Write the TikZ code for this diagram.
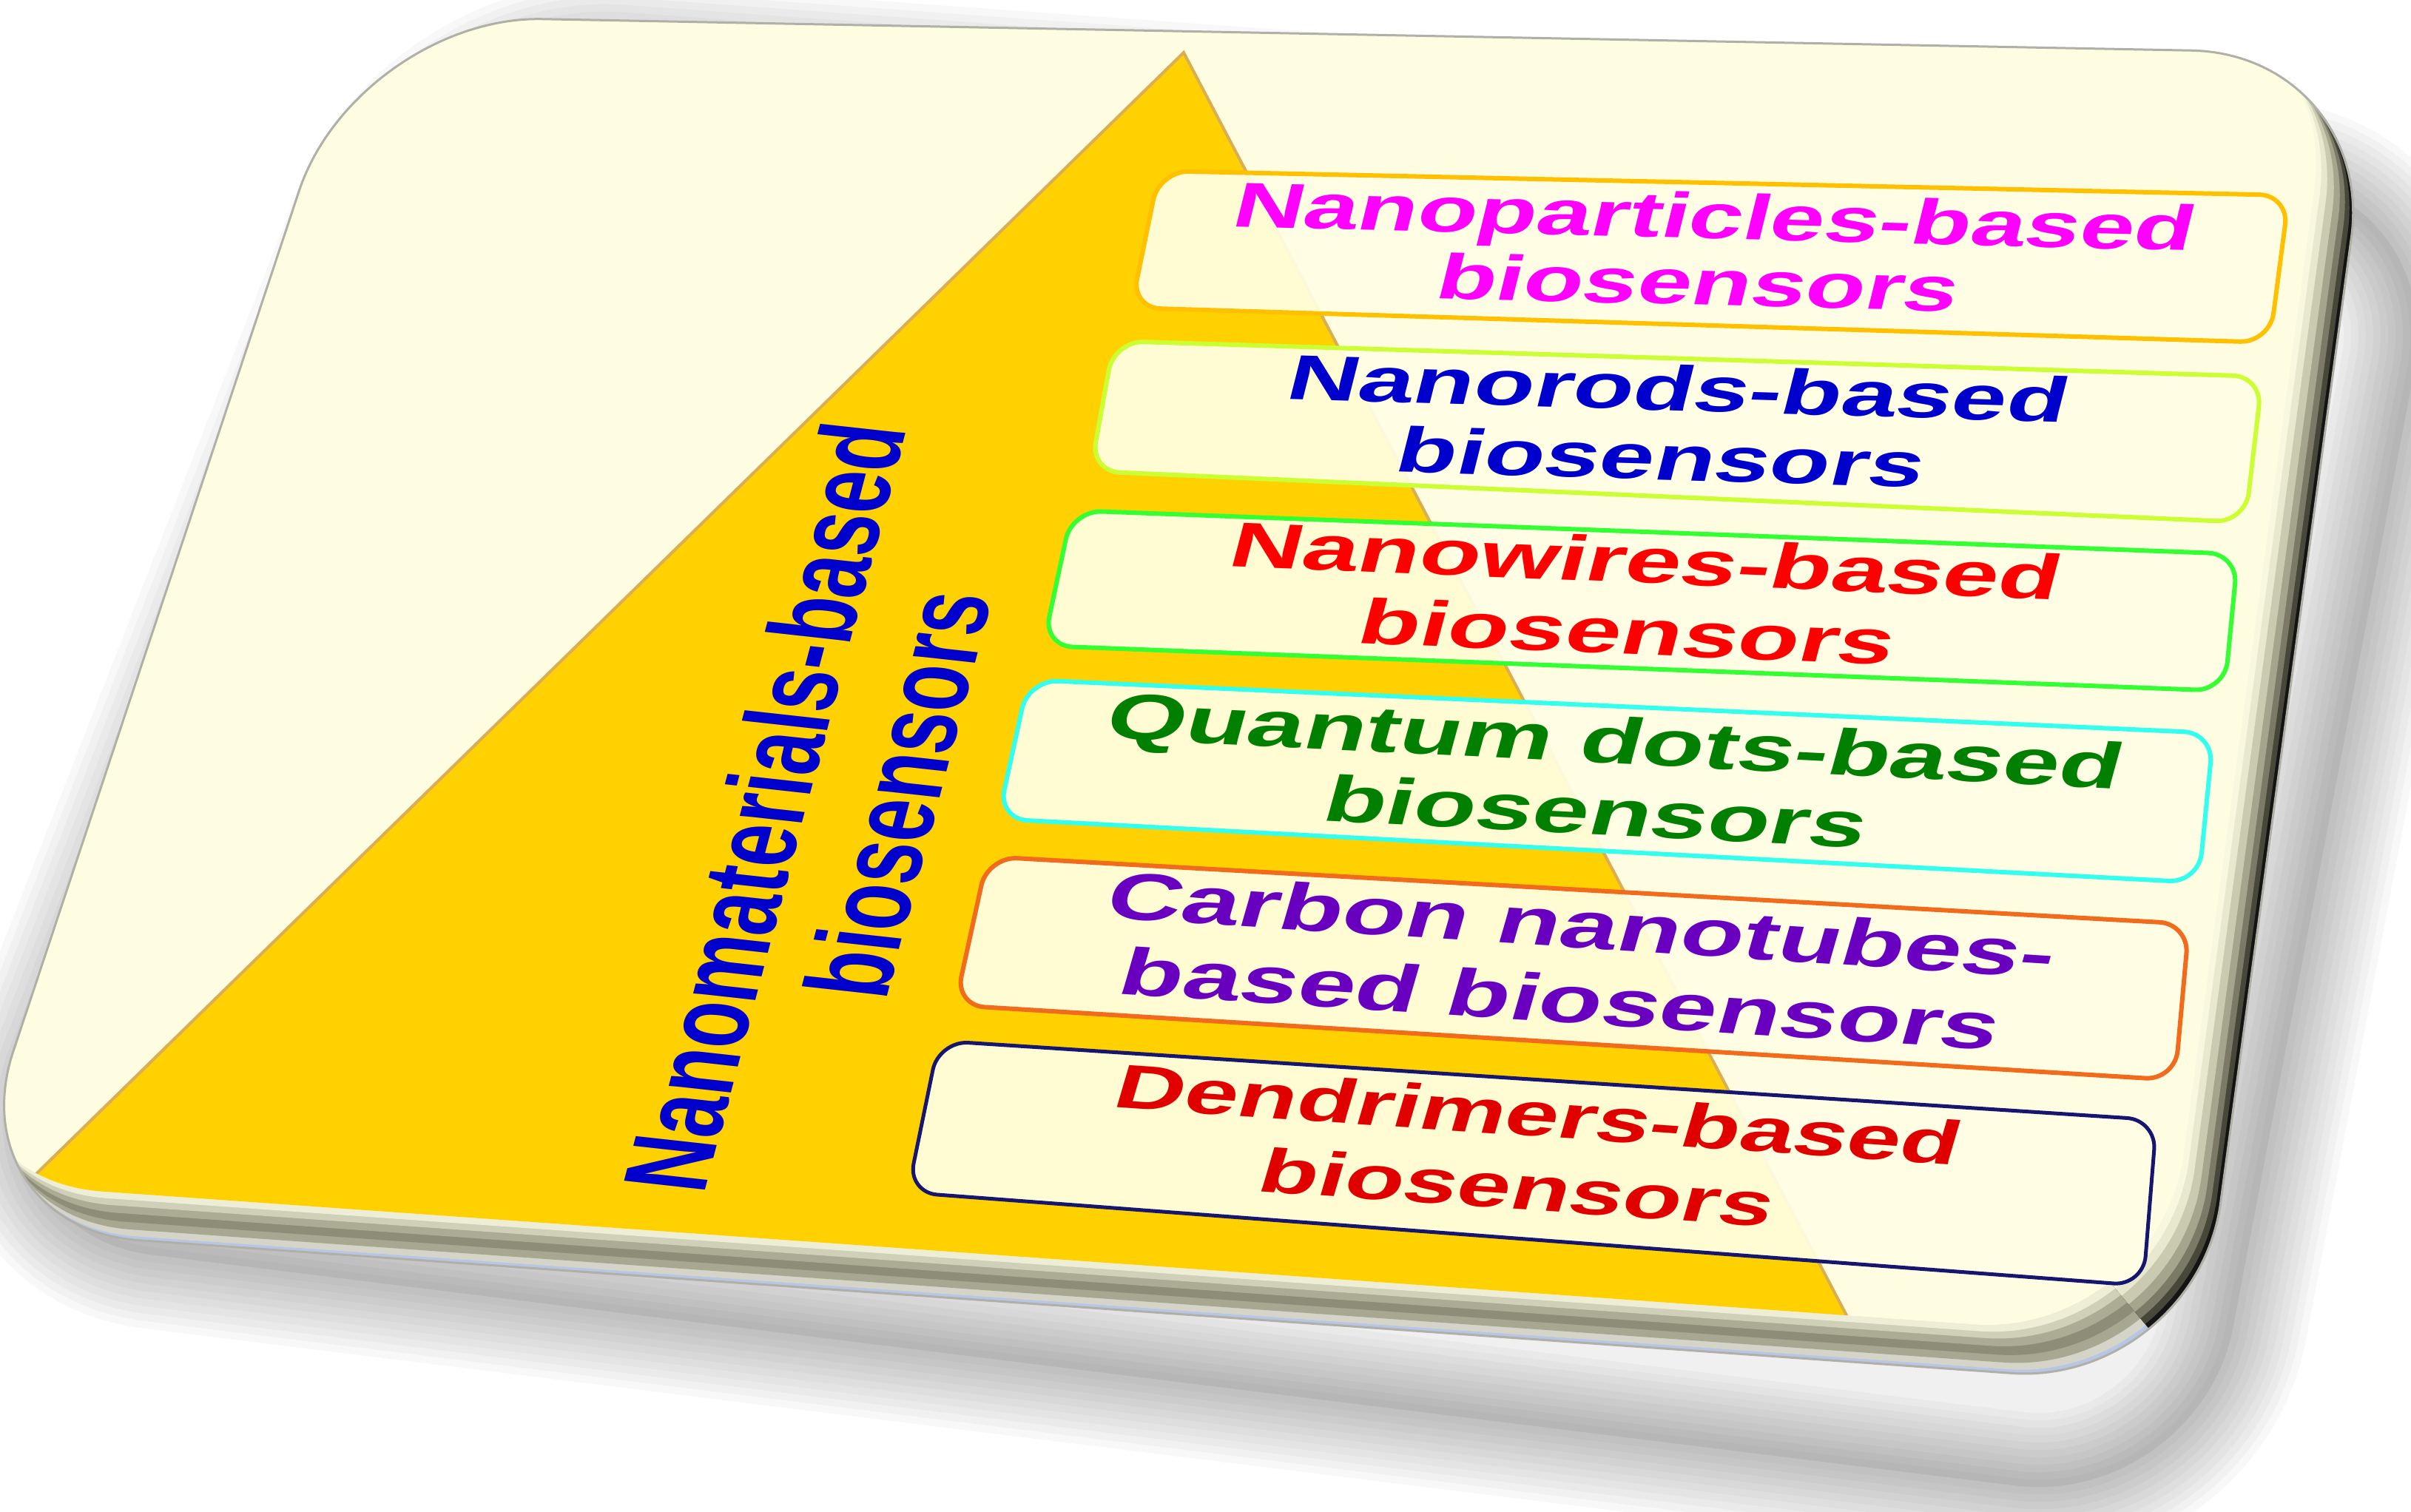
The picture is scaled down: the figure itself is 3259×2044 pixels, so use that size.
\documentclass[tikz,border=0pt]{standalone}
\usepackage{fontspec}
\setmainfont{Liberation Sans}
\newcommand{\fsz}[2]{\fontsize{#1}{#2}\selectfont\bfseries}
\newcommand{\cardshape}{(483,21) -- (3212,73) -- (2968,1874) -- (-61,1659) -- cycle}
\definecolor{face}{HTML}{FFFDE1}
\definecolor{boxfill}{HTML}{FFFFE6}
\definecolor{gold}{HTML}{FFD100}
\definecolor{triedge}{HTML}{D9AE55}
\definecolor{bA}{HTML}{B8C6E6}
\definecolor{bB}{HTML}{D4D4C8}
\definecolor{bC}{HTML}{A8A892}
\definecolor{bD}{HTML}{8E8E78}
\definecolor{bE}{HTML}{ACAC94}
\definecolor{bF}{HTML}{D0D0B8}
\definecolor{bG}{HTML}{EEEED6}
\definecolor{rA}{HTML}{141414}
\definecolor{rB}{HTML}{47473A}
\definecolor{rC}{HTML}{7A7A66}
\definecolor{rD}{HTML}{A5A58E}
\definecolor{rE}{HTML}{CACAB0}
\definecolor{rF}{HTML}{E8E8CE}
\definecolor{rG}{HTML}{F8F8E0}
\definecolor{outl}{HTML}{B0B0A8}
\definecolor{b1c}{HTML}{FFC000}
\definecolor{b2c}{HTML}{CCFF33}
\definecolor{b3c}{HTML}{33FF33}
\definecolor{b4c}{HTML}{33FFEE}
\definecolor{b5c}{HTML}{F26A1B}
\definecolor{b6c}{HTML}{16166E}
\definecolor{t1c}{HTML}{FF00FF}
\definecolor{t2c}{HTML}{0000CC}
\definecolor{t3c}{HTML}{FF0000}
\definecolor{t4c}{HTML}{007F00}
\definecolor{t5c}{HTML}{6A00BF}
\definecolor{t6c}{HTML}{E00000}
\definecolor{labc}{HTML}{0000CC}
\begin{document}
\begin{tikzpicture}[x=1pt,y=-1pt,
  cardr/.style={rounded corners=250pt},
  boxr/.style={rounded corners=40pt, line width=6pt, fill=boxfill, fill opacity=0.92},
  btxt/.style={anchor=base, align=center, inner sep=0pt}]
\useasboundingbox (0,0) rectangle (3259,2044);
\clip (0,0) rectangle (3259,2044);
% shadow
\begin{scope}[shift={(20,10)}, rotate around={-3:(0,1650)}]
  \foreach \w in {200,180,...,20}{\draw[cardr, line width=\w pt, black, opacity=0.028, line join=round] \cardshape;}
  \fill[cardr, black, opacity=0.06] \cardshape;
\end{scope}
% card with rim
\begin{scope}
  \clip[cardr] \cardshape;
  \foreach \t/\c in {0/bA,0.08/bB,0.22/bC,0.38/bD,0.56/bE,0.72/bF,0.86/bG}{\fill[cardr, \c, shift={(-50*\t,-66*\t)}] \cardshape;}
  \begin{scope}
    \clip (2560,0) -- (2560,1380) -- (3110,2044) -- (3259,2044) -- (3259,0) -- cycle;
    \foreach \t/\c in {0/rA,0.10/rB,0.22/rC,0.36/rD,0.52/rE,0.70/rF,0.86/rG}{\fill[cardr, \c, shift={(-50*\t,-66*\t)}] \cardshape;}
  \end{scope}
  \fill[cardr, face, shift={(-50,-66)}] \cardshape;
  \begin{scope}
    \clip[cardr, shift={(-50,-66)}] \cardshape;
    \fill[gold, draw=triedge, line width=4pt] (1600,71) -- (2497,1780) -- (15,1620) -- cycle;
  \end{scope}
\end{scope}
\draw[cardr, line width=3pt, outl] \cardshape;
% boxes
\draw[boxr, draw=b1c] (1567,231) -- (3094,264) -- (3068,463) -- (1529,416) -- cycle;
\draw[boxr, draw=b2c] (1506,461) -- (3058,509) -- (3035,706) -- (1474,637) -- cycle;
\draw[boxr, draw=b3c] (1449,690) -- (3025,749) -- (3007,934) -- (1410,873) -- cycle;
\draw[boxr, draw=b4c] (1390,919) -- (2992,991) -- (2972,1193) -- (1349,1107) -- cycle;
\draw[boxr, draw=b5c] (1335,1158) -- (2959,1249) -- (2940,1460) -- (1291,1359) -- cycle;
\draw[boxr, draw=b6c, line width=5pt] (1269,1407) -- (2915,1514) -- (2897,1738) -- (1227,1612) -- cycle;
% texts (anchored at the baseline of the second line)
\node[btxt, text=t1c, rotate=-1.45, xslant=0.22, xscale=1.535, font=\fsz{86}{90}] (t1) at (2289,412) {Nanoparticles-based\\biosensors};
\node[btxt, text=t2c, rotate=-1.72, xslant=0.22, xscale=1.553, font=\fsz{86}{94}] (t2) at (2238.5,648.3) {Nanorods-based\\biosensors};
\node[btxt, text=t3c, rotate=-2.3, xslant=0.22, xscale=1.576, font=\fsz{86}{97}] (t3) at (2192.8,884.1) {Nanowires-based\\biosensors};
\node[btxt, text=t4c, rotate=-2.86, xslant=0.22, xscale=1.56, font=\fsz{88}{97}] (t4) at (2149.8,1127.8) {Quantum dots-based\\biosensors};
\node[btxt, text=t5c, rotate=-3.66, xslant=0.22, xscale=1.554, font=\fsz{90}{102}] (t5) at (2101.1,1381.4) {Carbon nanotubes-\\based biosensors};
\node[btxt, text=t6c, rotate=-3.95, xslant=0.22, xscale=1.55, font=\fsz{84}{100}] (t6) at (2043.2,1634.2) {Dendrimers-based\\biosensors};
\node[btxt, text=labc, xscale=1.55, rotate=80.3, font=\fsz{104}{112}] (lab) at (1260.1,1115.9) {Nanomaterials-based\\\hspace*{0.7em}biosensors};
\end{tikzpicture}
\end{document}
